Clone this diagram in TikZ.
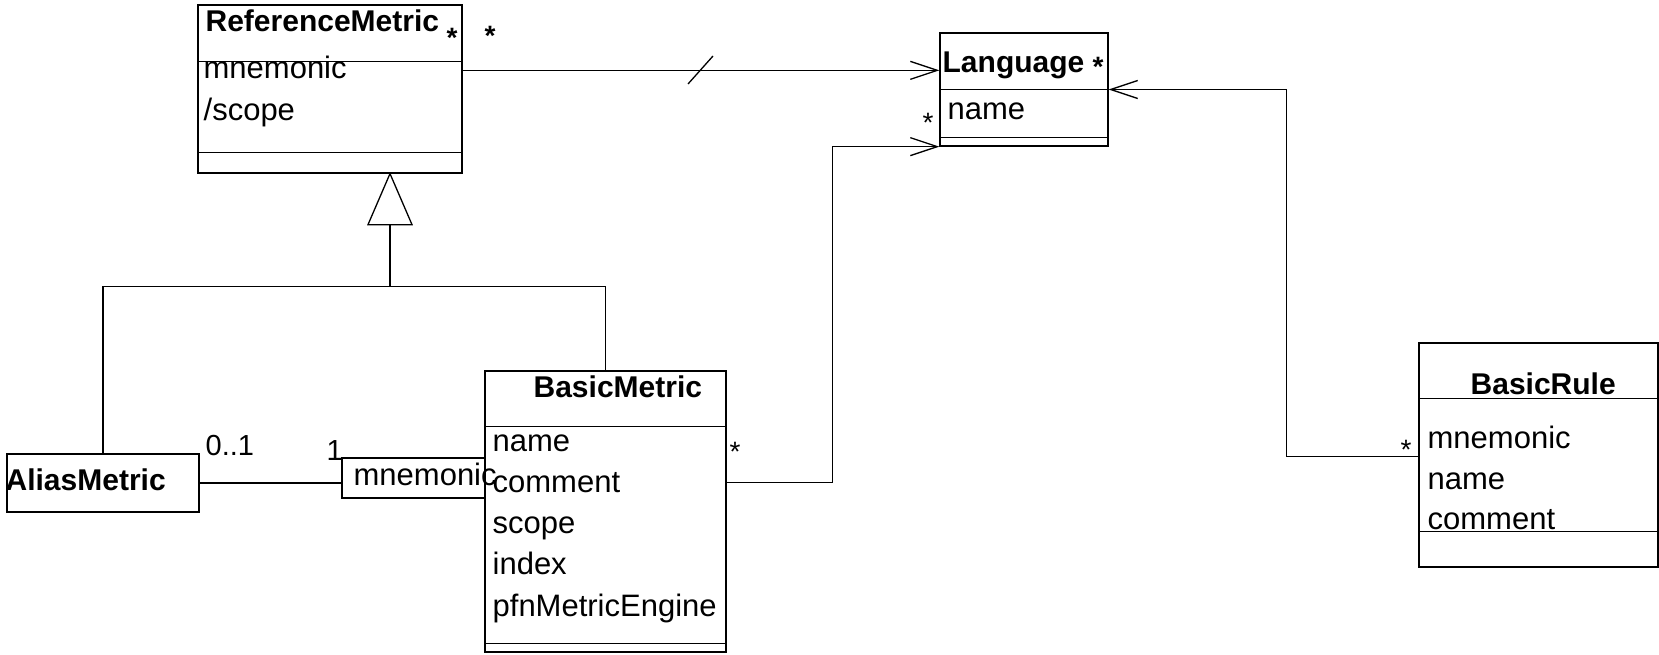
\documentclass[tikz,border=0pt]{standalone}
\usepackage{fontspec}
\setmainfont{Liberation Sans}
\usetikzlibrary{arrows.meta}
\begin{document}
\begin{tikzpicture}[x=1pt,y=-1pt,
  line width=1.3pt,
  box/.style={draw, rectangle, inner sep=0pt, line width=1.3pt},
  ttl/.style={anchor=base west, inner sep=0pt, font=\fontsize{30}{32}\selectfont\bfseries},
  att/.style={anchor=base west, inner sep=0pt, font=\fontsize{31}{33}\selectfont},
  mult/.style={anchor=base west, inner sep=0pt, font=\fontsize{29}{31}\selectfont},
  star/.style={anchor=base, inner sep=0pt, font=\fontsize{28}{30}\selectfont},
  bstar/.style={star, font=\fontsize{28}{30}\selectfont\bfseries},
  assoc/.style={-{Straight Barb[length=27pt,width=18pt,line width=1.3pt]}}
]
\useasboundingbox (0,0) rectangle (1659,655);

% class boxes
\node[box, minimum width=264pt, minimum height=168pt] (rm) at (330,89) {};
\node[box, minimum width=168pt, minimum height=113pt] (lang) at (1024,89.5) {};
\node[box, minimum width=192pt, minimum height=58pt] (am) at (103,483) {};
\node[box, minimum width=143pt, minimum height=40pt] (mn) at (413.5,478) {};
\node[box, minimum width=241pt, minimum height=281pt] (bm) at (605.5,511.5) {};
\node[box, minimum width=239pt, minimum height=224pt] (br) at (1538.5,455) {};

% compartments
\draw ([yshift=-57pt]rm.north west) -- ([yshift=-57pt]rm.north east);
\draw ([yshift=21pt]rm.south west) -- ([yshift=21pt]rm.south east);
\draw ([yshift=-57pt]lang.north west) -- ([yshift=-57pt]lang.north east);
\draw ([yshift=9pt]lang.south west) -- ([yshift=9pt]lang.south east);
\draw ([yshift=-56pt]bm.north west) -- ([yshift=-56pt]bm.north east);
\draw ([yshift=9pt]bm.south west) -- ([yshift=9pt]bm.south east);
\draw ([yshift=-56pt]br.north west) -- ([yshift=-56pt]br.north east);
\draw ([yshift=36pt]br.south west) -- ([yshift=36pt]br.south east);

% texts
\node[ttl] (trm) at (205,32) {ReferenceMetric};
\node[att] (arm1) at (203,79) {mnemonic};
\node[att] (arm2) at (203,121) {/scope};
\node[ttl] (tlang) at (942,73) {Language};
\node[att] (alang) at (947,120) {name};
\node[ttl] (tam) at (5,490) {AliasMetric};
\node[att] (amn) at (353,485) {mnemonic};
\node[ttl] (tbm) at (533,397) {BasicMetric};
\node[att] (abm1) at (492,451) {name};
\node[att] (abm2) at (492,492) {comment};
\node[att] (abm3) at (492,533) {scope};
\node[att] (abm4) at (492,574) {index};
\node[att] (abm5) at (492,616) {pfnMetricEngine};
\node[ttl] (tbr) at (1470,394) {BasicRule};
\node[att] (abr1) at (1427,448) {mnemonic};
\node[att] (abr2) at (1427,489) {name};
\node[att] (abr3) at (1427,529) {comment};

% multiplicities
\node[bstar] (s1) at (452,48) {*};
\node[bstar] (s2) at (490,46) {*};
\node[bstar] (s3) at (1098,77) {*};
\node[star] (s4) at (928,133) {*};
\node[star] (s5) at (735,461) {*};
\node[star] (s6) at (1406,459) {*};
\node[mult] (m01) at (205,455) {0..1};
\node[mult] (m1) at (326,460) {1};

% associations
\draw[assoc] ([yshift=-66pt]rm.north east) -- ([yshift=-66pt]rm.north east -| lang.west);
\draw (688,84) -- (713,56);
\draw[assoc] ([yshift=-112pt]bm.north east) -- ++(106,0) |- (lang.south west);
\draw[assoc] ([yshift=-114pt]br.north west) -- ++(-132,0) |- (lang.east);
\draw (am.east) -- (am.east -| mn.west);

% generalization
\coordinate (apex) at ([xshift=60pt]rm.south);
\coordinate (gj) at ([yshift=-113pt]apex);
\draw (apex) -- ++(-22,51) -- ++(44,0) -- cycle;
\draw ([yshift=-51pt]apex) -- (gj);
\draw (am.north) |- (gj) -| (bm.north);
\end{tikzpicture}
\end{document}
